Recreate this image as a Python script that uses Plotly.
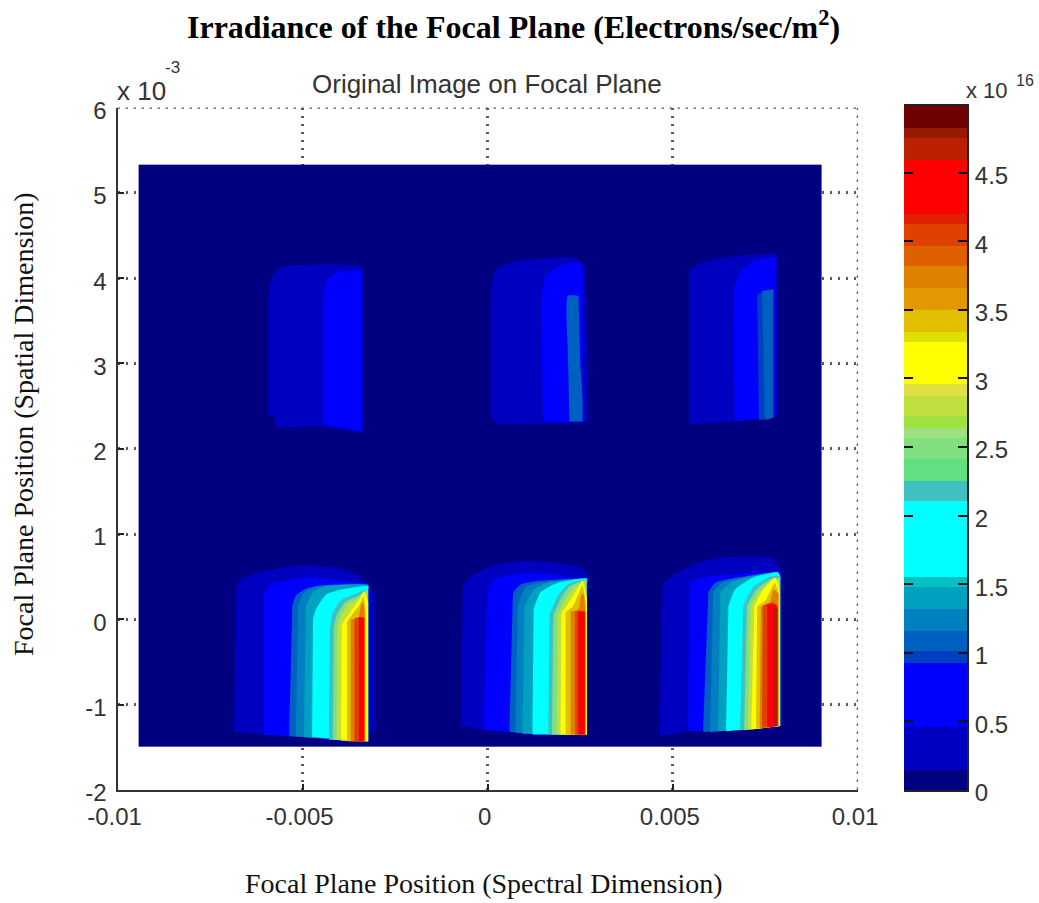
import plotly.graph_objects as go

W, H = 1039, 903

# colour bar: band edges (in units of 1e16) and band colours
BAND_EDGES = [0, 0.146, 0.459, 0.924, 1.012, 1.157, 1.317, 1.477, 1.55, 2.103, 2.249, 2.409, 2.569, 2.635,
              2.729, 2.875, 2.962, 3.268, 3.341, 3.501, 3.661, 3.821, 3.967, 4.127, 4.2, 4.592, 4.753, 4.825, 4.985]
BAND_COLORS = ["#000080", "#0000c0", "#0000ff", "#0040c0", "#0060c0", "#0080c0", "#00a0c0", "#00c0c0", "#00ffff",
               "#40c0c0", "#60e080", "#80e080", "#a0e080", "#a0e040", "#c0e040", "#e0e040", "#ffff00", "#e0e000",
               "#e0c000", "#e09a00", "#e08000", "#e06000", "#e04000", "#e02000", "#ff0000", "#bb2000", "#981a00",
               "#700000"]
CBAR_TICKS = [0, 0.5, 1, 1.5, 2, 2.5, 3, 3.5, 4, 4.5]
CBAR_TICK_TEXT = ["0", "0.5", "1", "1.5", "2", "2.5", "3", "3.5", "4", "4.5"]

# focal plane extent (x and y in units of 1e-3)
PLANE_X = [-9.43, 9.03]
PLANE_Y = [-1.49, 5.33]
X_TICKS = [-10, -5, 0, 5, 10]
X_TICK_TEXT = ["-0.01", "-0.005", "0", "0.005", "0.01"]
Y_TICKS = [-2, -1, 0, 1, 2, 3, 4, 5, 6]
Y_TICK_TEXT = ["-2", "-1", "0", "1", "2", "3", "4", "5", "6"]

# iso-irradiance regions, outermost first: (colour, x, y)
TOP_LEFT = [
    ("#0000c0", [-5.93, -5.93, -5.85, -5.58, -4.23, -3.42, -3.34, -3.34, -4.23, -5.04, -5.71, -5.75],
     [2.38, 3.7, 3.99, 4.13, 4.16, 4.14, 4.0, 2.2, 2.25, 2.26, 2.25, 2.38]),
    ("#0000ff", [-4.45, -4.45, -4.31, -4.04, -3.42, -3.42], [2.29, 3.75, 3.99, 4.07, 4.08, 2.20]),
]
TOP_MIDDLE = [
    ("#0000c0", [0.08, 0.08, 0.22, 0.81, 2.32, 2.64, 2.72, 2.70, 0.27], [2.37, 3.81, 4.10, 4.20, 4.24, 4.13, 2.32, 2.31, 2.29]),
    ("#0000ff", [1.51, 1.43, 1.56, 1.89, 2.51, 2.56, 2.56], [2.32, 3.73, 4.01, 4.14, 4.19, 4.1, 2.32]),
    ("#0060c0", [2.21, 2.16, 2.16, 2.45, 2.50, 2.56, 2.56], [2.32, 3.2, 3.79, 3.79, 3.0, 2.6, 2.32]),
]
TOP_RIGHT = [
    ("#0000c0", [5.44, 5.44, 5.82, 6.36, 7.82, 7.82, 6.36], [2.29, 4.08, 4.19, 4.24, 4.28, 2.38, 2.31]),
    ("#0000ff", [6.68, 6.63, 6.87, 7.17, 7.76, 7.76], [2.32, 3.85, 4.10, 4.20, 4.24, 2.38]),
    ("#0040c0", [7.28, 7.33, 7.71, 7.71], [3.81, 2.34, 2.37, 3.87]),
    ("#0060c0", [7.41, 7.49, 7.71, 7.71], [3.85, 2.34, 2.37, 3.87]),
]
BOTTOM_LEFT = [
    ("#0000c0", [-6.85, -6.79, -6.66, -6.12, -5.12, -4.15, -3.42, -3.21, -3.21, -5.31],
     [-1.32, 0.39, 0.47, 0.56, 0.63, 0.61, 0.50, 0.39, -1.43, -1.37]),
    ("#0000c0", [-3.21, -3.05, -3.05, -3.21], [0.32, 0.32, -1.29, -1.29]),
    ("#0000ff", [-6.06, -6.06, -5.85, -5.31, -4.77, -3.29, -3.21, -3.21], [-1.35, 0.28, 0.41, 0.47, 0.49, 0.41, 0.35, -1.43]),
    ("#0060c0", [-5.36, -5.28, -5.18, -4.91, -4.50, -3.23, -3.23], [-1.37, 0.15, 0.28, 0.36, 0.40, 0.41, -1.43]),
    ("#0080c0", [-5.18, -5.12, -4.96, -4.64, -3.23, -3.23], [-1.37, 0.15, 0.32, 0.38, 0.40, -1.43]),
    ("#00a0c0", [-4.96, -4.91, -4.72, -4.37, -3.23, -3.23], [-1.38, 0.15, 0.32, 0.39, 0.40, -1.43]),
    ("#00ffff", [-4.74, -4.72, -4.64, -4.37, -3.96, -3.23, -3.23], [-1.38, 0, 0.12, 0.29, 0.35, 0.39, -1.43]),
    ("#40c0c0", [-4.29, -4.26, -4.20, -3.96, -3.56, -3.29, -3.25, -3.25], [-1.41, -0.12, 0.06, 0.23, 0.30, 0.35, 0.3, -1.43]),
    ("#80e080", [-4.18, -4.16, -4.08, -3.85, -3.48, -3.27, -3.25, -3.25], [-1.41, -0.12, 0.05, 0.20, 0.28, 0.34, 0.3, -1.43]),
    ("#c0e040", [-4.08, -4.06, -3.97, -3.78, -3.42, -3.27, -3.25, -3.25], [-1.41, -0.1, 0.04, 0.17, 0.26, 0.33, 0.3, -1.43]),
    ("#ffff00", [-3.96, -3.94, -3.75, -3.48, -3.34, -3.23, -3.23], [-1.42, -0.06, 0.06, 0.23, 0.33, 0.2, -1.43]),
    ("#e0c000", [-3.80, -3.80, -3.62, -3.45, -3.36, -3.30, -3.30], [-1.43, -0.03, 0.08, 0.18, 0.27, 0.1, -1.43]),
    ("#e08000", [-3.70, -3.70, -3.50, -3.42, -3.36, -3.32, -3.32], [-1.43, 0.0, 0.0, 0.18, 0.2, 0.05, -1.43]),
    ("#e04000", [-3.60, -3.60, -3.42, -3.33, -3.33], [-1.43, 0.01, 0.03, 0.0, -1.43]),
    ("#ff0000", [-3.48, -3.48, -3.34, -3.34], [-1.43, 0.02, 0.02, -1.43]),
]
BOTTOM_MIDDLE = [
    ("#0000c0", [-0.73, -0.67, -0.46, 0, 0.81, 1.70, 2.51, 2.70, 2.70, 2.59, 1.16, 0.62, -0.11],
     [-1.25, 0.39, 0.50, 0.61, 0.68, 0.67, 0.61, 0.53, -1.35, -1.35, -1.35, -1.32, -1.29]),
    ("#0000ff", [-0.11, -0.05, 0, 0.16, 0.81, 1.24, 2.51, 2.70, 2.70, 2.59, 1.16, 0.62],
     [-1.29, -0.35, 0.35, 0.47, 0.53, 0.55, 0.48, 0.45, -1.35, -1.35, -1.35, -1.32]),
    ("#0060c0", [0.59, 0.67, 0.70, 0.89, 1.35, 2.68, 2.68], [-1.32, 0.15, 0.32, 0.41, 0.45, 0.47, -1.35]),
    ("#0080c0", [0.75, 0.81, 1.02, 1.43, 2.68, 2.68], [-1.33, 0.15, 0.38, 0.43, 0.47, -1.35]),
    ("#00a0c0", [0.94, 1.0, 1.24, 1.62, 2.68, 2.68], [-1.34, 0.15, 0.35, 0.43, 0.47, -1.35]),
    ("#00ffff", [1.21, 1.24, 1.43, 1.89, 2.68, 2.68], [-1.35, 0.12, 0.32, 0.43, 0.48, -1.35]),
    ("#40c0c0", [1.64, 1.67, 1.89, 2.16, 2.68, 2.68], [-1.35, 0.04, 0.27, 0.41, 0.47, -1.35]),
    ("#80e080", [1.74, 1.77, 1.98, 2.22, 2.66, 2.66], [-1.35, 0.04, 0.25, 0.39, 0.46, -1.35]),
    ("#c0e040", [1.87, 1.89, 2.08, 2.32, 2.64, 2.64], [-1.35, 0.05, 0.22, 0.37, 0.45, -1.35]),
    ("#ffff00", [1.97, 1.99, 2.24, 2.45, 2.56, 2.68, 2.68], [-1.35, 0.06, 0.23, 0.38, 0.46, 0.25, -1.35]),
    ("#e0c000", [2.10, 2.10, 2.30, 2.48, 2.56, 2.65, 2.65], [-1.35, 0.08, 0.15, 0.33, 0.40, 0.2, -1.35]),
    ("#e08000", [2.24, 2.24, 2.45, 2.52, 2.58, 2.64, 2.64], [-1.35, 0.09, 0.12, 0.28, 0.30, 0.1, -1.35]),
    ("#e04000", [2.36, 2.36, 2.50, 2.63, 2.63], [-1.35, 0.09, 0.1, 0.08, -1.35]),
    ("#ff0000", [2.45, 2.45, 2.62, 2.62], [-1.35, 0.09, 0.09, -1.35]),
]
BOTTOM_RIGHT = [
    ("#0000c0", [4.64, 4.72, 5.12, 5.74, 6.47, 7.68, 7.92, 7.92, 6.47, 5.42],
     [-1.37, 0.41, 0.55, 0.67, 0.73, 0.72, 0.59, -1.25, -1.29, -1.31]),
    ("#0000ff", [5.42, 5.44, 5.93, 6.63, 7.84, 7.90, 7.90, 6.47], [-1.31, 0.43, 0.50, 0.53, 0.56, 0.50, -1.25, -1.29]),
    ("#0060c0", [5.82, 5.96, 6.15, 6.74, 7.84, 7.90, 7.90], [-1.32, 0.32, 0.43, 0.49, 0.55, 0.5, -1.25]),
    ("#0080c0", [6.01, 6.09, 6.33, 7.0, 7.84, 7.90, 7.90], [-1.32, 0.32, 0.43, 0.50, 0.55, 0.5, -1.25]),
    ("#00a0c0", [6.23, 6.28, 6.55, 7.1, 7.84, 7.90, 7.90], [-1.31, 0.32, 0.43, 0.50, 0.55, 0.5, -1.25]),
    ("#00ffff", [6.44, 6.50, 6.68, 7.17, 7.84, 7.90, 7.90], [-1.31, 0.15, 0.35, 0.49, 0.55, 0.5, -1.25]),
    ("#40c0c0", [6.82, 6.90, 7.17, 7.63, 7.88, 7.88], [-1.3, 0.15, 0.38, 0.50, 0.5, -1.25]),
    ("#80e080", [6.93, 7.0, 7.25, 7.68, 7.88, 7.88], [-1.3, 0.15, 0.35, 0.48, 0.48, -1.25]),
    ("#c0e040", [7.03, 7.10, 7.33, 7.72, 7.88, 7.88], [-1.29, 0.15, 0.32, 0.47, 0.46, -1.25]),
    ("#ffff00", [7.12, 7.20, 7.41, 7.76, 7.88, 7.88], [-1.29, 0.15, 0.33, 0.49, 0.35, -1.25]),
    ("#e0c000", [7.25, 7.28, 7.50, 7.75, 7.86, 7.86], [-1.28, 0.15, 0.22, 0.43, 0.3, -1.25]),
    ("#e08000", [7.35, 7.38, 7.60, 7.72, 7.85, 7.85], [-1.28, 0.15, 0.17, 0.35, 0.3, -1.25]),
    ("#e04000", [7.41, 7.43, 7.7, 7.84, 7.84], [-1.27, 0.16, 0.2, 0.15, -1.25]),
    ("#ff0000", [7.55, 7.55, 7.80, 7.80], [-1.27, 0.17, 0.17, -1.25]),
    ("#a81c00", [7.74, 7.74, 7.82, 7.82], [-1.25, 0.12, 0.12, -1.25]),
]
PATCHES = [TOP_LEFT, TOP_MIDDLE, TOP_RIGHT, BOTTOM_LEFT, BOTTOM_MIDDLE, BOTTOM_RIGHT]


def keep_edges_straight(xs, ys):
    """Pin the long vertical sides so the curve smoothing only rounds the tops."""
    out_x, out_y = [xs[0]], [ys[0]]
    for i in range(1, len(xs)):
        x0, y0, x1, y1 = xs[i - 1], ys[i - 1], xs[i], ys[i]
        if abs(y1 - y0) > 0.6:
            out_x += [x0 + 0.03 * (x1 - x0), x0 + 0.97 * (x1 - x0)]
            out_y += [y0 + 0.03 * (y1 - y0), y0 + 0.97 * (y1 - y0)]
        out_x.append(x1)
        out_y.append(y1)
    return out_x, out_y


fig = go.Figure()

fig.add_trace(go.Heatmap(x=PLANE_X, y=PLANE_Y, z=[[0]], zmin=0, zmax=1, showscale=False,
                         colorscale=[[0, "#000080"], [1, "#000080"]], hoverinfo="skip"))
for patch in PATCHES:
    for color, xs, ys in patch:
        px, py = keep_edges_straight(xs, ys)
        fig.add_trace(go.Scatter(x=px, y=py, mode="lines", fill="toself", fillcolor=color,
                                 line=dict(width=0, color=color, shape="spline", smoothing=0.5),
                                 showlegend=False, hoverinfo="skip"))

n = len(BAND_COLORS)
scale = []
for i, c in enumerate(BAND_COLORS):
    scale += [[i / n, c], [(i + 1) / n, c]]
fig.add_trace(go.Heatmap(x=[0, 1], y=BAND_EDGES, z=[[i + 0.5] for i in range(n)], zmin=0, zmax=n,
                         colorscale=scale, showscale=False, xaxis="x2", yaxis="y2", hoverinfo="skip"))
# carries the colour bar's left-hand tick marks
fig.add_trace(go.Scatter(x=[0.5], y=[0], mode="markers", marker=dict(opacity=0), xaxis="x2", yaxis="y3",
                         showlegend=False, hoverinfo="skip"))

TICK_FONT = dict(family="Liberation Sans", size=24, color="#333333")
GRID_DASH = "2.5px,5.5px"
GRID = dict(showgrid=True, gridcolor="#5a5a5a", griddash=GRID_DASH, gridwidth=2.5, zeroline=False)

fig.update_layout(
    width=W, height=H, margin=dict(l=0, r=0, t=0, b=0), paper_bgcolor="white", plot_bgcolor="white",
    showlegend=False,
    xaxis=dict(domain=[117.5 / W, 858 / W], range=[-10, 10], tickmode="array", tickvals=X_TICKS, ticktext=X_TICK_TEXT,
               ticks="inside", ticklen=6, tickcolor="#222222", tickwidth=1.5, showline=True, linecolor="#333333",
               linewidth=2, tickfont=TICK_FONT, ticklabelshift=-3, ticklabelstandoff=4, anchor="y",
               automargin=False, **GRID),
    yaxis=dict(domain=[1 - 790 / H, 1 - 107.5 / H], range=[-2, 6], tickmode="array", tickvals=Y_TICKS, ticktext=Y_TICK_TEXT,
               ticks="inside", ticklen=6, tickcolor="#222222", tickwidth=1.5, showline=True, linecolor="#333333",
               linewidth=2, tickfont=TICK_FONT, ticklabelshift=3, ticklabelstandoff=4, anchor="x",
               automargin=False, **GRID),
    xaxis2=dict(domain=[904 / W, 967 / W], range=[0, 1], showticklabels=False, ticks="", showgrid=False, zeroline=False,
                showline=True, linecolor="#222222", linewidth=2, mirror=True, anchor="y2", automargin=False),
    yaxis2=dict(domain=[1 - 790 / H, 1 - 106 / H], range=[0, 4.985], side="right", tickmode="array", tickvals=CBAR_TICKS,
                ticktext=CBAR_TICK_TEXT, ticks="inside", ticklen=9, tickwidth=1.5, tickcolor="#111111", showline=True,
                linecolor="#222222", linewidth=2, tickfont=TICK_FONT, ticklabelshift=3, ticklabelstandoff=1,
                showgrid=False, zeroline=False, anchor="x2", automargin=False),
    yaxis3=dict(domain=[1 - 790 / H, 1 - 106 / H], range=[0, 4.985], side="left", overlaying="y2", tickmode="array",
                tickvals=CBAR_TICKS, ticks="inside", ticklen=9, tickwidth=1.5, tickcolor="#111111", showticklabels=False,
                showline=False, showgrid=False, zeroline=False, anchor="x2", automargin=False),
)

# the dotted grid lines that fall on the top and right limits of the axes
fig.add_shape(type="line", xref="x", yref="y", x0=-10, x1=10, y0=6, y1=6, layer="below",
              line=dict(color="#5a5a5a", width=2.5, dash=GRID_DASH))
fig.add_shape(type="line", xref="x", yref="y", x0=10, x1=10, y0=-2, y1=6, layer="below",
              line=dict(color="#5a5a5a", width=2.5, dash=GRID_DASH))


def note(text, px, py, family, size, color="#333333", xanchor="center", yanchor="middle", angle=0):
    fig.add_annotation(text=text, x=px / W, y=1 - py / H, xref="paper", yref="paper", showarrow=False,
                       font=dict(family=family, size=size, color=color), xanchor=xanchor, yanchor=yanchor,
                       textangle=angle)


note("<b>Irradiance of the Focal Plane (Electrons/sec/m<sup>2</sup>)</b>", 513, 25, "Liberation Serif", 32, "#000000")
note("Original Image on Focal Plane", 487, 84, "Liberation Sans", 26)
note("x 10", 115, 91, "Liberation Sans", 26, xanchor="left")
note("-3", 163, 67, "Liberation Sans", 17, xanchor="left")
note("x 10", 964, 91, "Liberation Sans", 22, xanchor="left")
note("16", 1014, 80, "Liberation Sans", 16, xanchor="left")
note("Focal Plane Position (Spectral Dimension)", 484, 883, "Liberation Serif", 28, "#111111")
note("Focal Plane Position (Spatial Dimension)", 23, 424, "Liberation Serif", 28, "#111111", angle=-90)

fig.write_html("out.html", config={"displayModeBar": False},
               post_script="document.body.style.margin='0';document.body.style.overflow='hidden';")
